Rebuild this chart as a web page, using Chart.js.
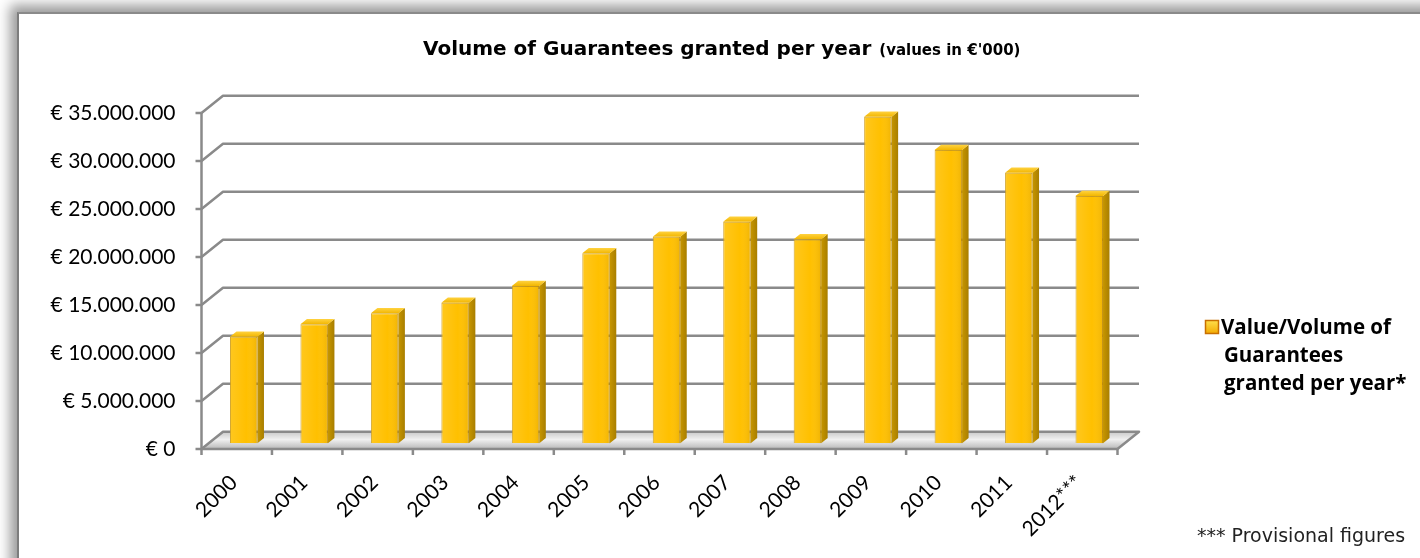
<!DOCTYPE html>
<html>
<head>
<meta charset="utf-8">
<script src="https://cdn.jsdelivr.net/npm/chart.js@4.4.1/dist/chart.umd.min.js"></script>
<style>
  html, body { margin: 0; padding: 0; background: #fff; overflow: hidden; }
  #frame {
    position: absolute; left: 17px; top: 12px; width: 1460px; height: 620px;
    border-left: 2px solid #7d7d7d; border-top: 2px solid #8a8a8a;
    box-shadow: -3px -3px 12px 4px rgba(0, 0, 0, 0.4); background: #fff;
  }
  #chart { position: absolute; left: 0; top: 0; }
</style>
</head>
<body>
<div id="frame"></div>
<canvas id="chart" width="1420" height="558"></canvas>
<script>
const years = ['2000', '2001', '2002', '2003', '2004', '2005', '2006',
               '2007', '2008', '2009', '2010', '2011', '2012***'];
const volumes = [11100000, 12400000, 13540000, 14650000, 16390000, 19790000, 21520000,
                 23080000, 21250000, 34020000, 30550000, 28190000, 25760000];
const yMax = 35000000;
const yStep = 5000000;

const chartTitle = 'Volume of Guarantees granted per year';
const chartSubtitle = "(values in €'000)";
const legendLines = ['Value/Volume of', 'Guarantees', 'granted per year*'];
const footnote = '*** Provisional figures';

// ── 3D look: offsets from the bar plane to the front axis plane / back wall
const FRONT = { dx: -7, dy: 5.7 };
const BACK = { dx: 14.5, dy: -11.6 };
const BAR_DEPTH = { dx: 6.5, dy: -5.2 };
const GRID = '#8a8a8a';
const LABEL_FONT = 'Lato, "Open Sans", sans-serif';
const VERDANA = '"DejaVu Sans", Verdana, sans-serif';

const euro = v => '€ ' + String(v).replace(/\B(?=(\d{3})+(?!\d))/g, '.');

const depthPlugin = {
  id: 'depth',
  beforeDatasetsDraw(chart) {
    const { ctx, chartArea: a, scales: { x, y } } = chart;
    const y0 = y.getPixelForValue(0);
    const fl = a.left + FRONT.dx, fr = a.right + FRONT.dx, fy = y0 + FRONT.dy;
    const bl = a.left + BACK.dx, br = a.right + BACK.dx, by = y0 + BACK.dy;
    ctx.save();

    // floor plate
    const g = ctx.createLinearGradient(0, by, 0, fy);
    g.addColorStop(0, '#c9c9c9');
    g.addColorStop(0.45, '#f0f0f0');
    g.addColorStop(1, '#b8b8b8');
    ctx.fillStyle = g;
    ctx.beginPath();
    ctx.moveTo(fl, fy); ctx.lineTo(bl, by); ctx.lineTo(br, by); ctx.lineTo(fr, fy);
    ctx.closePath();
    ctx.fill();

    // back wall gridlines with the side wall diagonals
    ctx.strokeStyle = GRID;
    ctx.lineWidth = 2.5;
    ctx.lineJoin = 'round';
    y.ticks.forEach(t => {
      const py = y.getPixelForValue(t.value);
      ctx.beginPath();
      ctx.moveTo(fl, py + FRONT.dy);
      ctx.lineTo(bl, py + BACK.dy);
      ctx.lineTo(br, py + BACK.dy);
      if (t.value === 0) ctx.lineTo(fr, fy);
      ctx.stroke();
      // tick on the value axis
      ctx.beginPath();
      ctx.moveTo(fl - 6, py + FRONT.dy);
      ctx.lineTo(fl, py + FRONT.dy);
      ctx.stroke();
    });

    // value axis and category axis
    ctx.beginPath();
    ctx.moveTo(fl, y.getPixelForValue(yMax) + FRONT.dy);
    ctx.lineTo(fl, fy);
    ctx.lineTo(fr, fy);
    ctx.stroke();
    const step = (a.right - a.left) / x.ticks.length;
    for (let i = 0; i <= x.ticks.length; i++) {
      const px = fl + i * step;
      ctx.beginPath();
      ctx.moveTo(px, fy);
      ctx.lineTo(px, fy + 6);
      ctx.stroke();
    }
    ctx.restore();
  },

  afterDatasetsDraw(chart) {
    const { ctx } = chart;
    const d = BAR_DEPTH;
    ctx.save();
    chart.getDatasetMeta(0).data.forEach(bar => {
      const { x, y, base, width } = bar.getProps(['x', 'y', 'base', 'width'], true);
      const l = x - width / 2, r = x + width / 2;

      // right side
      const sg = ctx.createLinearGradient(r, 0, r + d.dx, 0);
      sg.addColorStop(0, '#c79600');
      sg.addColorStop(1, '#a87e00');
      ctx.fillStyle = sg;
      ctx.beginPath();
      ctx.moveTo(r, y); ctx.lineTo(r + d.dx, y + d.dy);
      ctx.lineTo(r + d.dx, base + d.dy); ctx.lineTo(r, base);
      ctx.closePath();
      ctx.fill();

      // top
      const tg = ctx.createLinearGradient(0, y + d.dy, 0, y);
      tg.addColorStop(0, '#ffd23f');
      tg.addColorStop(1, '#f2b600');
      ctx.fillStyle = tg;
      ctx.beginPath();
      ctx.moveTo(l, y); ctx.lineTo(l + d.dx, y + d.dy);
      ctx.lineTo(r + d.dx, y + d.dy); ctx.lineTo(r, y);
      ctx.closePath();
      ctx.fill();

      // soft shading across the front face
      const fg = ctx.createLinearGradient(l, 0, r, 0);
      fg.addColorStop(0, 'rgba(255,255,255,0.12)');
      fg.addColorStop(0.6, 'rgba(255,255,255,0)');
      fg.addColorStop(1, 'rgba(150,100,0,0.15)');
      ctx.fillStyle = fg;
      ctx.fillRect(l, y, width, base - y);
    });
    ctx.restore();
  },

  afterDraw(chart) {
    const { ctx } = chart;
    ctx.save();
    ctx.fillStyle = '#000';
    ctx.textBaseline = 'alphabetic';

    // title
    ctx.font = 'bold 20px ' + VERDANA;
    ctx.fillText(chartTitle, 423, 55);
    const tw = ctx.measureText(chartTitle).width;
    ctx.font = 'bold 15px ' + VERDANA;
    ctx.fillText(chartSubtitle, 423 + tw + 8, 55);

    // legend
    const mg = ctx.createLinearGradient(1205, 320, 1205, 334);
    mg.addColorStop(0, '#ffe14d');
    mg.addColorStop(1, '#f2a900');
    ctx.fillStyle = mg;
    ctx.fillRect(1205, 320, 14, 14);
    ctx.strokeStyle = '#c86f00';
    ctx.lineWidth = 1.5;
    ctx.strokeRect(1205.5, 320.5, 13, 13);
    ctx.fillStyle = '#000';
    ctx.font = 'bold 20.5px "Open Sans", Lato, sans-serif';
    legendLines.forEach((line, i) => ctx.fillText(line, i === 0 ? 1221 : 1224, 334 + i * 28));

    // footnote
    ctx.font = '19px ' + VERDANA;
    ctx.fillStyle = '#222';
    ctx.textBaseline = 'middle';
    ctx.fillText(footnote, 1197, 537);
    ctx.restore();
  }
};

new Chart(document.getElementById('chart'), {
  type: 'bar',
  data: {
    labels: years,
    datasets: [{
      label: legendLines.join(' '),
      data: volumes,
      backgroundColor: '#ffc000',
      borderColor: 'rgba(200,145,0,0.9)',
      borderWidth: 1,
      categoryPercentage: 1,
      barPercentage: 0.39
    }]
  },
  options: {
    responsive: false,
    animation: false,
    layout: { padding: { left: 0, top: 107.3, right: 295.5, bottom: 4.7 } },
    plugins: { legend: { display: false }, title: { display: false }, tooltip: { enabled: false } },
    scales: {
      y: {
        min: 0, max: yMax,
        grid: { display: false },
        border: { display: false },
        ticks: {
          stepSize: yStep,
          padding: 25,
          labelOffset: 5.7,
          color: '#000',
          font: { family: LABEL_FONT, size: 21 },
          callback: v => euro(v)
        },
        afterFit: s => { s.width = 208.5; }
      },
      x: {
        grid: { display: false },
        border: { display: false },
        ticks: {
          minRotation: 45, maxRotation: 45,
          autoSkip: false,
          padding: 19,
          labelOffset: -10,
          color: '#000',
          font: { family: LABEL_FONT, size: 21 }
        },
        afterFit: s => { s.height = 110; }
      }
    }
  },
  plugins: [depthPlugin]
});
</script>
</body>
</html>
